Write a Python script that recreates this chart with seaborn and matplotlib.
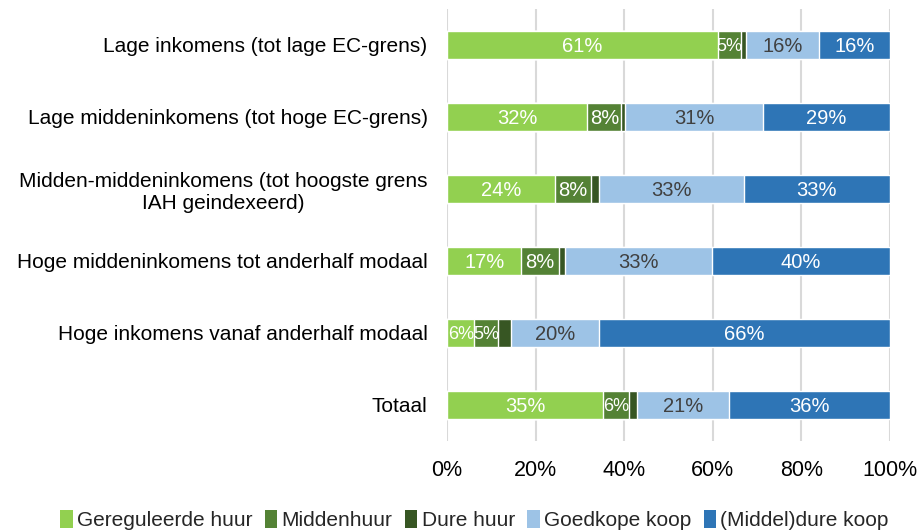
import matplotlib
matplotlib.use("Agg")
import matplotlib.pyplot as plt
import seaborn as sns
import numpy as np
import pandas as pd
from matplotlib.patches import Patch

categories = [
    "Lage inkomens (tot lage EC-grens)",
    "Lage middeninkomens (tot hoge EC-grens)",
    "Midden-middeninkomens (tot hoogste grens\nIAH geindexeerd)",
    "Hoge middeninkomens tot anderhalf modaal",
    "Hoge inkomens vanaf anderhalf modaal",
    "Totaal",
]
series_names = ["Gereguleerde huur", "Middenhuur", "Dure huur", "Goedkope koop", "(Middel)dure koop"]
gereguleerde = [61.2, 31.7, 24.3, 16.8, 6.2, 35.2]
middenhuur = [5.1, 7.6, 8.3, 8.4, 5.4, 5.8]
dure_huur = [1.3, 0.8, 1.7, 1.4, 2.8, 1.8]
goedkope_koop = [16.4, 31.3, 32.7, 33.3, 19.8, 20.9]
middeldure_koop = [16.0, 28.6, 33.0, 40.1, 65.8, 36.2]
tick_values = [0, 20, 40, 60, 80, 100]
tick_labels = ["0%", "20%", "40%", "60%", "80%", "100%"]

colors = ["#92D050", "#548235", "#375623", "#9DC3E6", "#2E75B6"]
label_colors = ["white", "white", None, "#404040", "white"]

sns.set_style("white")
plt.rcParams["font.family"] = ["Liberation Sans", "DejaVu Sans"]

series = [gereguleerde, middenhuur, dure_huur, goedkope_koop, middeldure_koop]
df = pd.DataFrame({name: vals for name, vals in zip(series_names, series)})
df["categorie"] = categories
cum = df[series_names].cumsum(axis=1)
cum["categorie"] = categories

fig = plt.figure(figsize=(9.23, 5.31), dpi=100)
ax = fig.add_axes([447 / 923, 1 - 441 / 531, (890 - 447) / 923, (441 - 9) / 531])

for i in reversed(range(len(series_names))):
    sns.barplot(data=cum, x=series_names[i], y="categorie", orient="h",
                color=colors[i], width=0.4, saturation=1, ax=ax, zorder=2)

# labels
for i, name in enumerate(series_names):
    if label_colors[i] is None:
        continue
    lefts = cum[name] - df[name]
    for j, v in enumerate(df[name]):
        fs = 13 if v < 7 else 14.5
        ax.text(lefts[j] + v / 2, j + 0.02, f"{round(v)}%", ha="center", va="center",
                color=label_colors[i], fontsize=fs, zorder=5)

ax.set_xlim(0, 100)
ax.set_ylim(len(categories) - 0.5, -0.5)
ax.set_xticks(tick_values)
ax.set_xticklabels(tick_labels, fontsize=15.5, color="black")
ax.set_xlabel("")
ax.set_ylabel("")
ax.tick_params(axis="y", length=0, pad=14, labelsize=15, labelcolor="black")
ax.tick_params(axis="x", length=0, pad=14)
for lab in ax.get_yticklabels():
    lab.set_multialignment("center")
ax.grid(axis="x", color="#D9D9D9", linewidth=1.5, zorder=0)
ax.set_axisbelow(True)
for s in ax.spines.values():
    s.set_visible(False)

handles = [Patch(facecolor=c, edgecolor="none") for c in colors]
fig.legend(handles, series_names, loc="lower center", bbox_to_anchor=(0.514, -0.034),
           ncol=5, frameon=False, fontsize=15, handlelength=0.6, handleheight=0.9,
           handletextpad=0.2, columnspacing=0.6)

fig.savefig("out.png", dpi=100)
